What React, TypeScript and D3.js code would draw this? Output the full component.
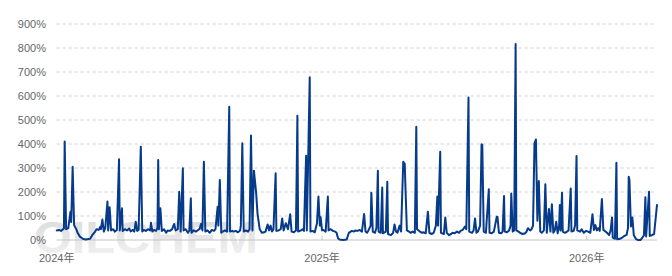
import React from "react";
import * as d3 from "d3";

const data2024: [string, number][] = [
  ["2024-01-01",40],["2024-01-04",42],["2024-01-07",38],["2024-01-11",48],["2024-01-12",410],["2024-01-14",45],["2024-01-17",50],["2024-01-20",118],["2024-01-21",75],["2024-01-23",305],["2024-01-25",62],["2024-01-28",45],["2024-01-30",29],
  ["2024-02-02",14],["2024-02-06",5],["2024-02-10",2],["2024-02-16",5],["2024-02-19",20],["2024-02-23",35],["2024-02-25",45],["2024-02-28",42],
  ["2024-03-01",55],["2024-03-02",45],["2024-03-04",85],["2024-03-06",35],["2024-03-08",50],["2024-03-11",160],["2024-03-12",40],["2024-03-14",136],["2024-03-16",40],["2024-03-19",45],["2024-03-21",35],["2024-03-24",42],["2024-03-27",336],["2024-03-28",40],["2024-03-31",132],
  ["2024-04-01",38],["2024-04-04",45],["2024-04-07",40],["2024-04-10",48],["2024-04-12",36],["2024-04-15",42],["2024-04-17",35],["2024-04-19",76],["2024-04-21",38],["2024-04-23",42],["2024-04-26",389],["2024-04-28",35],["2024-04-30",42],
  ["2024-05-03",38],["2024-05-06",45],["2024-05-09",40],["2024-05-10",72],["2024-05-12",35],["2024-05-14",42],["2024-05-17",38],["2024-05-19",50],["2024-05-20",333],["2024-05-21",45],["2024-05-23",132],["2024-05-25",38],["2024-05-28",45],["2024-05-31",30],
  ["2024-06-02",40],["2024-06-05",38],["2024-06-08",44],["2024-06-11",67],["2024-06-13",40],["2024-06-16",45],["2024-06-18",201],["2024-06-20",35],["2024-06-23",299],["2024-06-24",40],["2024-06-27",45],["2024-06-30",30],
  ["2024-07-02",40],["2024-07-04",174],["2024-07-05",30],["2024-07-08",40],["2024-07-11",35],["2024-07-14",42],["2024-07-16",45],["2024-07-18",67],["2024-07-20",40],["2024-07-22",326],["2024-07-24",35],["2024-07-27",40],["2024-07-30",30],
  ["2024-08-02",42],["2024-08-05",38],["2024-08-07",45],["2024-08-10",139],["2024-08-11",60],["2024-08-13",250],["2024-08-15",30],["2024-08-17",35],["2024-08-20",40],["2024-08-23",35],["2024-08-26",555],["2024-08-27",35],["2024-08-30",38],
  ["2024-09-01",35],["2024-09-04",38],["2024-09-07",32],["2024-09-10",40],["2024-09-11",60],["2024-09-13",403],["2024-09-15",35],["2024-09-18",40],["2024-09-21",35],["2024-09-23",45],["2024-09-25",435],["2024-09-27",40],["2024-09-29",289],
  ["2024-10-02",200],["2024-10-04",110],["2024-10-07",45],["2024-10-10",30],["2024-10-13",32],["2024-10-15",35],["2024-10-18",65],["2024-10-20",40],["2024-10-22",60],["2024-10-24",35],["2024-10-26",45],["2024-10-29",278],["2024-10-30",38],
  ["2024-11-02",40],["2024-11-05",45],["2024-11-07",90],["2024-11-09",40],["2024-11-12",70],["2024-11-15",45],["2024-11-18",107],["2024-11-20",35],["2024-11-23",32],["2024-11-26",40],["2024-11-28",518],["2024-11-29",35],
  ["2024-12-03",40],["2024-12-05",45],["2024-12-07",38],["2024-12-10",351],["2024-12-11",40],["2024-12-15",678],["2024-12-16",35],["2024-12-19",38],["2024-12-22",32],["2024-12-25",70],["2024-12-27",181],["2024-12-29",60],["2024-12-30",95],
];

const data2025: [string, number][] = [
  ["2025-01-01",40],["2025-01-03",42],["2025-01-06",35],["2025-01-09",181],["2025-01-10",40],["2025-01-13",45],["2025-01-16",38],["2025-01-19",35],["2025-01-21",30],["2025-01-23",7],["2025-01-25",2],["2025-01-30",0],
  ["2025-02-04",2],["2025-02-07",30],["2025-02-11",38],["2025-02-14",35],["2025-02-16",40],["2025-02-19",38],["2025-02-22",42],["2025-02-25",35],["2025-02-28",108],
  ["2025-03-02",35],["2025-03-04",30],["2025-03-06",40],["2025-03-09",60],["2025-03-10",197],["2025-03-12",35],["2025-03-15",30],["2025-03-17",50],["2025-03-19",289],["2025-03-20",35],["2025-03-23",30],["2025-03-25",219],["2025-03-26",28],["2025-03-30",35],
  ["2025-04-01",243],["2025-04-02",25],["2025-04-06",20],["2025-04-09",30],["2025-04-11",65],["2025-04-13",35],["2025-04-15",30],["2025-04-18",60],["2025-04-20",35],["2025-04-23",326],["2025-04-25",317],["2025-04-28",40],
  ["2025-05-01",35],["2025-05-03",30],["2025-05-06",35],["2025-05-09",30],["2025-05-11",472],["2025-05-12",45],["2025-05-16",35],["2025-05-19",30],["2025-05-21",32],["2025-05-24",28],["2025-05-27",118],["2025-05-29",30],
  ["2025-06-01",25],["2025-06-04",30],["2025-06-07",60],["2025-06-09",181],["2025-06-10",60],["2025-06-13",368],["2025-06-14",30],["2025-06-18",25],["2025-06-20",94],["2025-06-22",30],["2025-06-25",20],["2025-06-28",25],["2025-06-30",30],
  ["2025-07-03",28],["2025-07-06",35],["2025-07-09",30],["2025-07-11",38],["2025-07-14",42],["2025-07-17",56],["2025-07-19",45],["2025-07-22",594],["2025-07-23",35],["2025-07-27",30],["2025-07-29",40],["2025-07-31",90],
  ["2025-08-02",30],["2025-08-04",35],["2025-08-07",60],["2025-08-09",399],["2025-08-10",396],["2025-08-12",35],["2025-08-15",30],["2025-08-19",211],["2025-08-20",30],["2025-08-23",28],["2025-08-26",35],["2025-08-30",97],["2025-08-31",97],
  ["2025-09-02",30],["2025-09-05",28],["2025-09-07",35],["2025-09-09",183],["2025-09-10",35],["2025-09-13",32],["2025-09-16",40],["2025-09-18",60],["2025-09-19",194],["2025-09-21",35],["2025-09-23",40],["2025-09-25",817],["2025-09-26",40],["2025-09-29",35],
  ["2025-10-02",28],["2025-10-05",25],["2025-10-08",28],["2025-10-10",35],["2025-10-12",49],["2025-10-15",40],["2025-10-17",45],["2025-10-19",60],["2025-10-21",403],["2025-10-23",419],["2025-10-25",80],["2025-10-27",246],["2025-10-29",35],["2025-10-31",30],
  ["2025-11-03",40],["2025-11-05",232],["2025-11-07",30],["2025-11-10",129],["2025-11-12",35],["2025-11-14",149],["2025-11-16",30],["2025-11-18",40],["2025-11-20",76],["2025-11-22",28],["2025-11-24",60],["2025-11-25",146],["2025-11-26",40],["2025-11-28",197],["2025-11-29",35],
  ["2025-12-02",30],["2025-12-05",35],["2025-12-07",40],["2025-12-10",215],["2025-12-11",35],["2025-12-14",38],["2025-12-16",60],["2025-12-18",350],["2025-12-19",40],["2025-12-23",35],["2025-12-25",45],["2025-12-28",30],["2025-12-31",38],
];

const data2026: [string, number][] = [
  ["2026-01-03",35],["2026-01-06",30],["2026-01-09",107],["2026-01-11",42],["2026-01-13",62],["2026-01-15",40],["2026-01-17",50],["2026-01-19",38],["2026-01-22",171],["2026-01-24",42],["2026-01-26",38],["2026-01-29",30],
  ["2026-02-01",21],["2026-02-03",40],["2026-02-05",94],["2026-02-06",10],["2026-02-09",5],["2026-02-11",322],["2026-02-12",3],["2026-02-16",5],["2026-02-19",10],["2026-02-21",15],["2026-02-25",21],["2026-02-27",50],["2026-02-28",264],
  ["2026-03-01",250],["2026-03-03",56],["2026-03-05",94],["2026-03-07",20],["2026-03-10",4],["2026-03-13",0],["2026-03-16",0],["2026-03-18",6],["2026-03-21",20],["2026-03-23",178],["2026-03-24",15],["2026-03-28",201],["2026-03-29",17],
  ["2026-04-01",20],["2026-04-04",25],["2026-04-08",146],
];

const yTicks = [0, 100, 200, 300, 400, 500, 600, 700, 800, 900];
const xTickDates = ["2024-01-01", "2025-01-01", "2026-01-01"];
const xTickLabels = ["2024年", "2025年", "2026年"];
const domainStart = "2024-01-01";
const domainEnd = "2026-04-08";
const watermark = "OILCHEM";

const W = 672;
const H = 276;
const left = 56.7;
const right = 657;
const top = 24;
const bottom = 240;

export default function App() {
  const parse = d3.timeParse("%Y-%m-%d");
  const all = [...data2024, ...data2025, ...data2026].map(([d, v]) => ({
    date: parse(d) as Date,
    value: v,
  }));
  const x = d3
    .scaleTime()
    .domain([parse(domainStart) as Date, parse(domainEnd) as Date])
    .range([left, right]);
  const y = d3.scaleLinear().domain([0, 900]).range([bottom, top]);
  const line = d3
    .line<{ date: Date; value: number }>()
    .x((d) => x(d.date))
    .y((d) => y(d.value));
  const font = "'Liberation Sans', Arial, 'Noto Sans CJK SC', sans-serif";

  return (
    <svg
      width={W}
      height={H}
      style={{ position: "absolute", left: 0, top: 0, background: "#fff" }}
    >
      <defs>
        <linearGradient id="wm" x1="0" y1="0" x2="0" y2="1">
          <stop offset="0%" stopColor="#d9d9d9" />
          <stop offset="100%" stopColor="#f4f4f4" />
        </linearGradient>
      </defs>
      <text
        x={34}
        y={253}
        fontFamily={font}
        fontWeight="bold"
        fontSize={45}
        textLength={224}
        lengthAdjust="spacingAndGlyphs"
        fill="url(#wm)"
      >
        {watermark}
      </text>
      {yTicks.map((t) => (
        <g key={t}>
          {t > 0 && (
            <line
              x1={left}
              x2={right}
              y1={y(t)}
              y2={y(t)}
              stroke="#cfcfcf"
              strokeWidth={1}
              strokeDasharray="3,3"
            />
          )}
          <text
            x={46}
            y={y(t)}
            dy="0.35em"
            textAnchor="end"
            fontFamily={font}
            fontSize={11}
            fill="#666666"
          >
            {t}%
          </text>
        </g>
      ))}
      <line x1={left} x2={right} y1={bottom} y2={bottom} stroke="#c4c4c4" strokeWidth={1} />
      {xTickDates.map((d, i) => {
        const xx = x(parse(d) as Date);
        return (
          <g key={d}>
            {i > 0 && (
              <line x1={xx} x2={xx} y1={bottom - 4} y2={bottom} stroke="#c4c4c4" strokeWidth={1} />
            )}
            <text
              x={xx}
              y={262}
              textAnchor="middle"
              fontFamily={font}
              fontSize={11}
              fill="#666666"
            >
              {xTickLabels[i]}
            </text>
          </g>
        );
      })}
      <path
        d={line(all) || ""}
        fill="none"
        stroke="#063a8a"
        strokeWidth={2}
        strokeLinejoin="round"
        strokeLinecap="round"
      />
    </svg>
  );
}
